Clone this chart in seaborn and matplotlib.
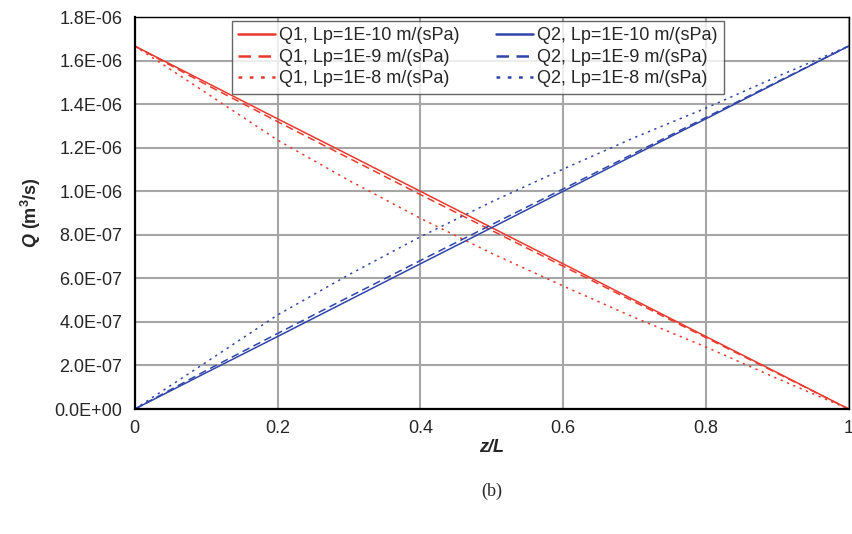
import numpy as np
import pandas as pd
import matplotlib
matplotlib.use('Agg')
import matplotlib.pyplot as plt
import seaborn as sns

# values (units of m^3/s)
z_L = [0.0, 0.1, 0.2, 0.3, 0.4, 0.5, 0.6, 0.7, 0.8, 0.9, 1.0]

q1_lp10 = [1.667e-6, 1.500e-6, 1.333e-6, 1.167e-6, 1.000e-6, 0.833e-6,
           0.667e-6, 0.500e-6, 0.333e-6, 0.167e-6, 0.0]
q1_lp9 = [1.667e-6, 1.490e-6, 1.320e-6, 1.152e-6, 0.985e-6, 0.820e-6,
          0.656e-6, 0.492e-6, 0.328e-6, 0.164e-6, 0.0]
q1_lp8 = [1.667e-6, 1.452e-6, 1.235e-6, 1.050e-6, 0.876e-6, 0.715e-6,
          0.565e-6, 0.420e-6, 0.285e-6, 0.140e-6, 0.0]

q2_lp10 = [0.0, 0.167e-6, 0.333e-6, 0.500e-6, 0.667e-6, 0.833e-6,
           1.000e-6, 1.167e-6, 1.333e-6, 1.500e-6, 1.667e-6]
q2_lp9 = [0.0, 0.177e-6, 0.347e-6, 0.515e-6, 0.682e-6, 0.847e-6,
          1.011e-6, 1.175e-6, 1.339e-6, 1.503e-6, 1.667e-6]
q2_lp8 = [0.0, 0.215e-6, 0.432e-6, 0.617e-6, 0.791e-6, 0.952e-6,
          1.102e-6, 1.247e-6, 1.382e-6, 1.527e-6, 1.667e-6]

series = [
    ('Q1, Lp=1E-10 m/(sPa)', q1_lp10),
    ('Q1, Lp=1E-9 m/(sPa)', q1_lp9),
    ('Q1, Lp=1E-8 m/(sPa)', q1_lp8),
    ('Q2, Lp=1E-10 m/(sPa)', q2_lp10),
    ('Q2, Lp=1E-9 m/(sPa)', q2_lp9),
    ('Q2, Lp=1E-8 m/(sPa)', q2_lp8),
]

red = '#e8392c'
blue = '#2f45a8'
styles = {
    'Q1, Lp=1E-10 m/(sPa)': (red, '-'),
    'Q1, Lp=1E-9 m/(sPa)': (red, (0, (5, 3))),
    'Q1, Lp=1E-8 m/(sPa)': (red, (0, (1.5, 3))),
    'Q2, Lp=1E-10 m/(sPa)': (blue, '-'),
    'Q2, Lp=1E-9 m/(sPa)': (blue, (0, (5, 3))),
    'Q2, Lp=1E-8 m/(sPa)': (blue, (0, (1.5, 3))),
}

df = pd.concat([pd.DataFrame({'z': z_L, 'Q': vals, 'series': name}) for name, vals in series])

sns.set_style('white')
plt.rcParams['font.family'] = ['Liberation Sans', 'DejaVu Sans']
plt.rcParams['mathtext.fontset'] = 'custom'
plt.rcParams['mathtext.it'] = 'Liberation Sans:italic:bold'
plt.rcParams['mathtext.rm'] = 'Liberation Sans:bold'
plt.rcParams['mathtext.bf'] = 'Liberation Sans:bold'

fig = plt.figure(figsize=(8.53, 5.34), dpi=100)
ax = fig.add_axes([0.158, 0.234, 0.837, 0.734])

for name, vals in series:
    color, ls = styles[name]
    sns.lineplot(data=df[df['series'] == name], x='z', y='Q', ax=ax,
                 color=color, linestyle=ls, linewidth=1.1, label=name)

ax.set_xlim(0, 1)
ax.set_ylim(0, 1.8e-6)
ax.set_xticks([0, 0.2, 0.4, 0.6, 0.8, 1.0])
ax.set_xticklabels(['0', '0.2', '0.4', '0.6', '0.8', '1'])
yt = np.arange(0, 1.81e-6, 0.2e-6)
ax.set_yticks(yt)
ax.set_yticklabels(['0.0E+00'] + [f'{v:.1E}' for v in yt[1:]])
ax.grid(True, color='#a6a6a6', linewidth=1.5)
ax.set_axisbelow(True)
ax.tick_params(axis='both', labelsize=13, length=5, width=1, color='#808080', pad=4)
ax.tick_params(axis='x', pad=3)

for s in ['top', 'right']:
    ax.spines[s].set_color('black')
    ax.spines[s].set_linewidth(1.0)
for s in ['left', 'bottom']:
    ax.spines[s].set_color('black')
    ax.spines[s].set_linewidth(1.6)

ax.set_xlabel('z/L', fontsize=13, fontweight='bold', fontstyle='italic', labelpad=1)
ax.set_ylabel(r'$Q$ (m$^3$/s)', fontsize=13, fontweight='bold', labelpad=8)

leg = ax.legend(loc='upper left', bbox_to_anchor=(0.136, 0.99), ncol=2, fontsize=13,
                frameon=True, fancybox=False, handlelength=2.05, handletextpad=0.22,
                columnspacing=2.0, labelspacing=0.25, borderpad=0.35, borderaxespad=0)
leg.get_frame().set_edgecolor('#404040')
leg.get_frame().set_linewidth(1.0)
for h in leg.get_lines():
    h.set_linewidth(1.8)

fig.text(0.577, 0.079, '(b)', ha='center', va='center', fontsize=13,
         family=['Liberation Serif', 'DejaVu Serif'])

fig.savefig('out.png', dpi=100)
